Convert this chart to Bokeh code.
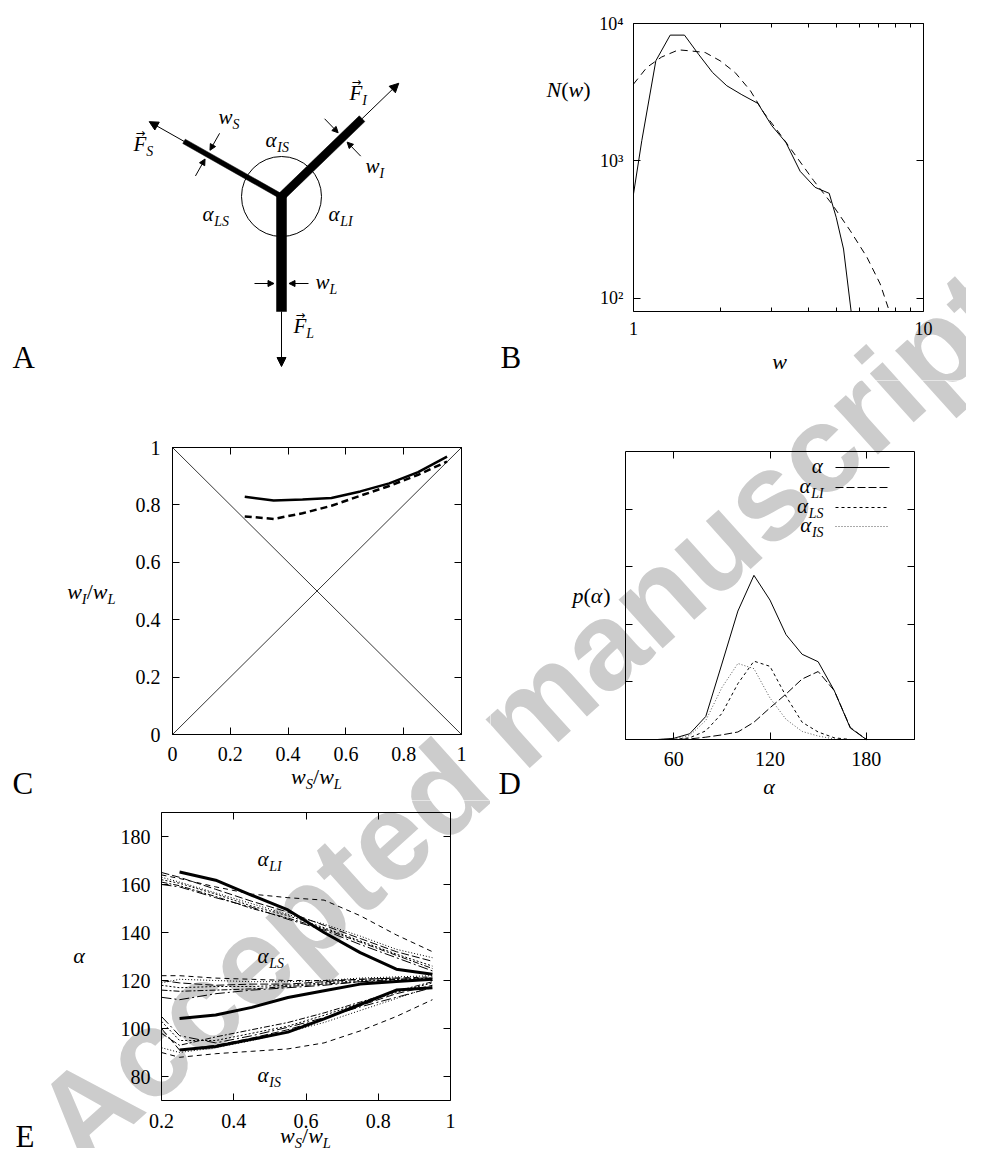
import numpy as np
from bokeh.plotting import figure
from bokeh.models import (Range1d, FixedTicker, LinearAxis, LogAxis, Label, Arrow,
                          NormalHead, CustomJSTickFormatter, ColumnDataSource)
from bokeh.layouts import column, row
from bokeh.embed import file_html
from bokeh.resources import INLINE

SERIF = "Liberation Serif"
BASE_FIX = 0.32  # raise labels so that their alphabetic baseline sits on the given y

# ---------------- Panel A: junction diagram (geometry, px units) ----------------
A_BRANCH = ["L", "I", "S"]
A_ANGLE_DEG = [270.0, 44.0, 150.5]
A_LENGTH = [115.0, 112.0, 112.0]
A_WIDTH = [10.0, 8.0, 5.0]
A_FORCE_EXTRA = [55.0, 51.0, 40.0]
A_WMARK_AT = [87.0, 85.0, 85.0]
A_CIRCLE_R = 40.0

# ---------------- Panel B: N(w) ----------------
B_W_SIM = [1.0, 1.068, 1.194, 1.338, 1.499, 1.675, 1.873, 2.098, 2.364, 2.684, 3.0,
           3.352, 3.756, 4.23, 4.73, 5.0, 5.30, 5.63]
B_N_SIM = [574, 1402, 5350, 8230, 8230, 5980, 4400, 3520, 3030, 2620, 1800,
           1363, 839, 641, 580, 388, 228, 80]
B_W_FIT = [1.0, 1.112, 1.25, 1.43, 1.568, 1.766, 1.99, 2.24, 2.53, 2.81, 3.20,
           3.66, 4.18, 4.83, 5.59, 6.38, 7.09, 7.63]
B_N_FIT = [3620, 4790, 5700, 6430, 6320, 6150, 5350, 4400, 3240, 2250, 1567,
           1060, 718, 486, 310, 199, 127, 80]
B_XTICKS = [1, 10]
B_XTICK_LABELS = ["1", "10"]
B_XMINOR = [2, 3, 4, 5, 6, 7, 8, 9]
B_YTICKS = [100, 1000, 10000]
B_YTICK_LABELS = ["10\u00b2", "10\u00b3", "10\u2074"]

# ---------------- Panel C: w_I/w_L vs w_S/w_L ----------------
C_RATIO = [0.25, 0.35, 0.45, 0.55, 0.65, 0.75, 0.85, 0.95]
C_SIM = [0.828, 0.815, 0.819, 0.824, 0.847, 0.875, 0.914, 0.968]
C_MODEL = [0.760, 0.751, 0.771, 0.797, 0.832, 0.866, 0.905, 0.951]
C_DIAG_X = [0.0, 1.0]
C_DIAG_UP = [0.0, 1.0]
C_DIAG_DOWN = [1.0, 0.0]
C_TICKS = [0.0, 0.2, 0.4, 0.6, 0.8, 1.0]
C_TICK_LABELS = ["0", "0.2", "0.4", "0.6", "0.8", "1"]

# ---------------- Panel D: p(alpha) ----------------
D_ANGLE = [30, 40, 50, 60, 70, 80, 90, 100, 110, 120, 130, 140, 150, 160, 170, 180, 190, 200, 210]
D_ALL = [0, 0, 0, 0.02, 0.10, 0.40, 1.31, 2.23, 2.85, 2.42, 1.82, 1.48, 1.35, 0.85, 0.20, 0, 0, 0, 0]
D_LI = [0, 0, 0, 0.0, 0.01, 0.04, 0.08, 0.13, 0.30, 0.55, 0.79, 1.05, 1.18, 0.85, 0.21, 0, 0, 0, 0]
D_LS = [0, 0, 0, 0.0, 0.03, 0.15, 0.45, 0.97, 1.36, 1.27, 0.75, 0.30, 0.13, 0.03, 0, 0, 0, 0, 0]
D_IS = [0, 0, 0, 0.01, 0.07, 0.33, 0.90, 1.32, 1.23, 0.72, 0.35, 0.14, 0.06, 0.01, 0, 0, 0, 0, 0]
D_XTICKS = [60, 120, 180]
D_XTICK_LABELS = ["60", "120", "180"]
D_YTICKS = [1, 2, 3, 4]

# ---------------- Panel E: angles vs w_S/w_L ----------------
E_X = [0.25, 0.35, 0.45, 0.55, 0.65, 0.75, 0.85, 0.95]
E_LI = [165.2, 161.8, 155.5, 149.4, 140.0, 131.6, 124.7, 122.6]
E_LS = [104.2, 105.6, 108.8, 112.9, 115.7, 118.5, 119.6, 120.5]
E_IS = [91.0, 92.5, 95.5, 98.5, 104.0, 110.0, 116.0, 117.0]
E_X_THIN = [0.2, 0.25, 0.35, 0.45, 0.55, 0.65, 0.75, 0.85, 0.95]
E_LI_THIN = [
    [164, 162.5, 159, 156, 154.5, 153.5, 147, 139, 132],
    [165, 163, 158, 153, 148.5, 143, 137.5, 132, 128],
    [162, 160.5, 156, 151, 147, 142, 136.5, 131, 126],
    [161, 159.5, 155, 150, 146, 141.5, 136, 130.5, 125],
    [160, 159, 154.5, 150.5, 145.5, 141, 135, 129.5, 124],
    [163, 161, 156.5, 152, 147.5, 143.5, 138.5, 133, 129.5],
]
E_LS_THIN = [
    [122, 122, 121, 120.5, 120, 120, 120.5, 121, 121.5],
    [120, 119, 118, 118.5, 118.5, 119.5, 120.5, 121, 121],
    [118, 117, 117.5, 117.5, 118, 119, 120, 120.5, 121],
    [116, 115.5, 116, 116.5, 117.5, 118.5, 119.5, 120.5, 120.5],
    [113, 112, 114.5, 116, 117, 118, 119.5, 120, 120],
    [119, 120.5, 120, 119.5, 119.5, 120, 121, 121.5, 122],
]
E_IS_THIN = [
    [90, 88, 89.5, 90.5, 91.5, 94, 99, 105, 112],
    [100, 91, 93, 96, 99.5, 104, 109.5, 114.5, 118],
    [103, 95, 95, 98, 101, 105.5, 110.5, 115, 119],
    [98, 93, 96.5, 99.5, 102.5, 106.5, 111, 115.5, 119.5],
    [105, 97, 94, 97, 100.5, 104.5, 109, 113, 117],
    [92, 90, 92, 95, 98.5, 102.5, 107.5, 112.5, 117.5],
]
E_XTICKS = [0.2, 0.4, 0.6, 0.8, 1.0]
E_XTICK_LABELS = ["0.2", "0.4", "0.6", "0.8", "1"]
E_YTICKS = [80, 100, 120, 140, 160, 180]
E_YTICK_LABELS = ["80", "100", "120", "140", "160", "180"]

THIN_DASHES = ["5 4", "8 3", "2 2", "6 2 2 2", "10 3 2 3", "1 2"]

WATERMARK = "Accepted manuscript"

# ---------------- helpers ----------------
CHAR_W = {"w": 0.667, "I": 0.333, "L": 0.556, "S": 0.5, "N": 0.667, "p": 0.5,
          "F": 0.611, "\u03b1": 0.56, "(": 0.333, ")": 0.333, "/": 0.278}


def math_label(p, x, y, parts, size=21.0, units="screen", align="left", vec=False):
    sub = size * 0.66
    widths = []
    for t, k in parts:
        fs = sub if k == "sub" else size
        widths.append(sum(CHAR_W.get(c, 0.5) for c in t) * fs)
    total = sum(widths)
    cur = {"left": 0.0, "center": -total / 2.0, "right": -total}[align]
    for i, ((t, k), w) in enumerate(zip(parts, widths)):
        fs = sub if k == "sub" else size
        yo = (-0.24 * size if k == "sub" else 0.0) + BASE_FIX * fs
        p.add_layout(Label(x=x, y=y, x_units=units, y_units=units,
                           x_offset=cur, y_offset=yo,
                           text=t, text_font=SERIF,
                           text_font_style="normal" if k == "up" else "italic",
                           text_font_size=f"{fs:.1f}px", text_baseline="alphabetic",
                           text_align="left", text_color="black"))
        if vec and i == 0:
            afs = size * 0.55
            p.add_layout(Label(x=x, y=y, x_units=units, y_units=units,
                               x_offset=cur + w * 0.55, y_offset=0.64 * size + BASE_FIX * afs,
                               text="\u2192", text_font="DejaVu Sans",
                               text_font_size=f"{afs:.1f}px", text_baseline="alphabetic",
                               text_align="center", text_color="black"))
        cur += w


def panel_letter(p, x, y, letter, units="screen"):
    p.add_layout(Label(x=x, y=y, x_units=units, y_units=units, text=letter,
                       y_offset=BASE_FIX * 31,
                       text_font=SERIF, text_font_size="31px",
                       text_baseline="alphabetic", text_align="left", text_color="black"))


def tick_formatter(ticks, labels):
    return CustomJSTickFormatter(args=dict(t=list(ticks), l=list(labels)), code="""
        let b = 0, d = Infinity;
        for (let i = 0; i < t.length; i++) {
            const e = Math.abs(t[i] - tick);
            if (e < d) { d = e; b = i; }
        }
        return l[b];""")


def style_axis(ax, ticks, minor, labels, size, standoff, show=True):
    ax.ticker = FixedTicker(ticks=list(ticks), minor_ticks=list(minor))
    ax.formatter = tick_formatter(ticks, labels if (labels and show) else [""] * len(ticks))
    ax.major_tick_in = 7
    ax.major_tick_out = 0
    ax.minor_tick_in = 4
    ax.minor_tick_out = 0
    ax.major_tick_line_color = "black"
    ax.minor_tick_line_color = "black"
    ax.axis_line_color = "black"
    ax.axis_line_width = 1
    ax.major_label_text_font = SERIF
    ax.major_label_text_color = "black"
    ax.major_label_text_font_size = size if show else "0px"
    ax.major_label_standoff = standoff if show else 0


def make_panel(X0, Y0, W, H, box, xdom, ydom, log=False):
    """Figure whose frame is the whole canvas; the data box sits at the page box."""
    bl, bt, br, bb = box
    f = (lambda v: np.log10(v)) if log else (lambda v: v)
    g = (lambda v: 10.0 ** v) if log else (lambda v: v)
    tx0, tx1 = f(xdom[0]), f(xdom[1])
    ty0, ty1 = f(ydom[0]), f(ydom[1])
    sx = (br - bl) / (tx1 - tx0)
    sy = (bb - bt) / (ty1 - ty0)
    xr = Range1d(g(tx0 - (bl - X0) / sx), g(tx1 + (X0 + W - br) / sx))
    yr = Range1d(g(ty0 - (Y0 + H - bb) / sy), g(ty1 + (bt - Y0) / sy))
    kw = dict(width=W, height=H, x_range=xr, y_range=yr, output_backend="svg",
              toolbar_location=None, min_border=0, x_axis_location=None, y_axis_location=None)
    if log:
        kw.update(x_axis_type="log", y_axis_type="log")
    p = figure(**kw)
    p.xgrid.visible = False
    p.ygrid.visible = False
    p.outline_line_color = None
    p.background_fill_color = "white"
    p.border_fill_color = "white"
    info = dict(X0=X0, Y0=Y0, W=W, H=H)
    return p, info


def scr(info, px, py):
    return px - info["X0"], info["Y0"] + info["H"] - py


def frame_axes(p, xdom, ydom, xt, xm, xl, yt, ym, yl, size, xstand, ystand, log=False, show_y=True):
    Ax = LogAxis if log else LinearAxis
    specs = [("below", ydom[0], xdom, xt, xm, xl, xstand, True),
             ("above", ydom[1], xdom, xt, xm, None, 0, False),
             ("left", xdom[0], ydom, yt, ym, yl, ystand, show_y),
             ("right", xdom[1], ydom, yt, ym, None, 0, False)]
    for side, loc, bnd, t, m, l, st, show in specs:
        ax = Ax(fixed_location=loc, bounds=(bnd[0], bnd[1]))
        style_axis(ax, t, m, l, size, st, show)
        p.add_layout(ax, side)


def watermark(p, info):
    sx, sy = scr(info, 522.0, 716.0)
    p.add_layout(Label(x=sx, y=sy, x_units="screen", y_units="screen", text=WATERMARK,
                       angle=42.0, angle_units="deg", text_align="center",
                       text_baseline="middle", text_font="Liberation Sans",
                       text_font_style="bold", text_font_size="124px",
                       text_color="#cccccc", level="underlay"))


def mlabel(p, info, px, py, parts, align="left", size=21.0):
    sx, sy = scr(info, px, py)
    math_label(p, sx, sy, parts, size=size, units="screen", align=align)


def letter(p, info, px, py, ch):
    sx, sy = scr(info, px, py)
    panel_letter(p, sx, sy, ch)


# ================= Panel A =================
pA = figure(width=490, height=380, x_range=Range1d(-281, 209), y_range=Range1d(-184, 196),
            output_backend="svg", toolbar_location=None, min_border=0,
            x_axis_location=None, y_axis_location=None)
pA.xgrid.visible = False
pA.ygrid.visible = False
pA.outline_line_color = None
pA.background_fill_color = "white"
pA.border_fill_color = "white"

ang = np.radians(A_ANGLE_DEG)
ux, uy = np.cos(ang), np.sin(ang)
nx, ny = -uy, ux
L = np.array(A_LENGTH)
W = np.array(A_WIDTH)
xs, ys = [], []
hull = []
for k in range(3):
    hw = W[k] / 2.0
    xs.append([nx[k] * hw, L[k] * ux[k] + nx[k] * hw, L[k] * ux[k] - nx[k] * hw, -nx[k] * hw])
    ys.append([ny[k] * hw, L[k] * uy[k] + ny[k] * hw, L[k] * uy[k] - ny[k] * hw, -ny[k] * hw])
    hull.append((nx[k] * hw, ny[k] * hw))
    hull.append((-nx[k] * hw, -ny[k] * hw))
hull.sort(key=lambda q: np.arctan2(q[1], q[0]))
pA.patches(xs, ys, fill_color="black", line_color="black", line_width=0.5)
pA.patch([q[0] for q in hull], [q[1] for q in hull], fill_color="black", line_color="black", line_width=0.5)
pA.circle(x=[0], y=[0], radius=A_CIRCLE_R, fill_color=None, line_color="black", line_width=1)

E_ext = L + np.array(A_FORCE_EXTRA)
force_src = ColumnDataSource(dict(x0=L * ux, y0=L * uy, x1=E_ext * ux, y1=E_ext * uy))
pA.add_layout(Arrow(source=force_src, x_start="x0", y_start="y0", x_end="x1", y_end="y1",
                    line_color="black", line_width=1,
                    end=NormalHead(size=9, fill_color="black", line_color="black")))
wx0, wy0, wx1, wy1 = [], [], [], []
for k in range(3):
    d = A_WMARK_AT[k]
    for s in (1, -1):
        wx0.append(d * ux[k] + s * nx[k] * (W[k] / 2 + 22))
        wy0.append(d * uy[k] + s * ny[k] * (W[k] / 2 + 22))
        wx1.append(d * ux[k] + s * nx[k] * (W[k] / 2 + 2.5))
        wy1.append(d * uy[k] + s * ny[k] * (W[k] / 2 + 2.5))
wsrc = ColumnDataSource(dict(x0=wx0, y0=wy0, x1=wx1, y1=wy1))
pA.add_layout(Arrow(source=wsrc, x_start="x0", y_start="y0", x_end="x1", y_end="y1",
                    line_color="black", line_width=1,
                    end=NormalHead(size=6, fill_color="black", line_color="black")))

math_label(pA, -148, 46, [("F", "it"), ("S", "sub")], units="data", vec=True)
math_label(pA, 68, 97, [("F", "it"), ("I", "sub")], units="data", vec=True)
math_label(pA, 12, -136, [("F", "it"), ("L", "sub")], units="data", vec=True)
math_label(pA, -63, 73, [("w", "it"), ("S", "sub")], units="data")
math_label(pA, 84, 24, [("w", "it"), ("I", "sub")], units="data")
math_label(pA, 34, -92, [("w", "it"), ("L", "sub")], units="data")
math_label(pA, -16, 50, [("\u03b1", "it"), ("IS", "sub")], units="data")
math_label(pA, -79, -24, [("\u03b1", "it"), ("LS", "sub")], units="data")
math_label(pA, 47, -24, [("\u03b1", "it"), ("LI", "sub")], units="data")
panel_letter(pA, -269, -171, "A", units="data")

# ================= Panel B =================
B_X, B_Y = (1, 10), (80, 10000)
pB, iB = make_panel(490, 0, 476, 380, (633, 23, 923, 311), B_X, B_Y, log=True)
watermark(pB, iB)
pB.line(B_W_SIM, B_N_SIM, line_color="black", line_width=1)
pB.line(B_W_FIT, B_N_FIT, line_color="black", line_width=1, line_dash="7 5")
frame_axes(pB, B_X, B_Y, B_XTICKS, B_XMINOR, B_XTICK_LABELS, B_YTICKS, [], B_YTICK_LABELS,
           "18px", 10, 10, log=True)
mlabel(pB, iB, 590, 96, [("N", "it"), ("(", "up"), ("w", "it"), (")", "up")], align="right", size=22)
mlabel(pB, iB, 779, 368, [("w", "it")], align="center", size=22)
letter(pB, iB, 500, 367, "B")

# ================= Panel C =================
C_X, C_Y = (0.0, 1.0), (0.0, 1.0)
pC, iC = make_panel(0, 380, 490, 420, (172, 447, 461, 734), C_X, C_Y)
watermark(pC, iC)
pC.line(C_DIAG_X, C_DIAG_UP, line_color="black", line_width=0.8)
pC.line(C_DIAG_X, C_DIAG_DOWN, line_color="black", line_width=0.8)
pC.line(C_RATIO, C_SIM, line_color="black", line_width=2.5)
pC.line(C_RATIO, C_MODEL, line_color="black", line_width=2.5, line_dash="7 4")
frame_axes(pC, C_X, C_Y, C_TICKS, [], C_TICK_LABELS, C_TICKS, [], C_TICK_LABELS, "20px", 12, 12)
mlabel(pC, iC, 115, 598, [("w", "it"), ("I", "sub"), ("/", "up"), ("w", "it"), ("L", "sub")],
       align="right", size=22)
mlabel(pC, iC, 316, 783, [("w", "it"), ("S", "sub"), ("/", "up"), ("w", "it"), ("L", "sub")],
       align="center", size=22)
letter(pC, iC, 12, 793, "C")

# ================= Panel D =================
D_X, D_Y = (30, 210), (0, 5)
D_BOX = (625, 451, 914, 739)
pD, iD = make_panel(490, 380, 476, 420, D_BOX, D_X, D_Y)
watermark(pD, iD)
D_STYLES = [("solid", "black"), ("8 3", "black"), ("3 3", "black"), ("1 2", "#555555")]
for series, (dash, col) in zip([D_ALL, D_LI, D_LS, D_IS], D_STYLES):
    pD.line(D_ANGLE, series, line_color=col, line_width=1, line_dash=dash)
frame_axes(pD, D_X, D_Y, D_XTICKS, [], D_XTICK_LABELS, D_YTICKS, [], None, "20px", 12, 12, show_y=False)
mlabel(pD, iD, 610, 602, [("p", "it"), ("(", "up"), ("\u03b1", "it"), (")", "up")], align="right", size=22)
mlabel(pD, iD, 769, 793, [("\u03b1", "it")], align="center", size=22)
letter(pD, iD, 498, 793, "D")
# legend: page rows -> data coordinates for the sample lines
leg_rows = [467, 487, 507, 526]
leg_parts = [[("\u03b1", "it")], [("\u03b1", "it"), ("LI", "sub")],
             [("\u03b1", "it"), ("LS", "sub")], [("\u03b1", "it"), ("IS", "sub")]]
bw = D_BOX[2] - D_BOX[0]
bh = D_BOX[3] - D_BOX[1]
for ry, parts, (dash, col) in zip(leg_rows, leg_parts, D_STYLES):
    mlabel(pD, iD, 823, ry + 5, parts, align="right")
    xa = D_X[0] + (835 - D_BOX[0]) / bw * (D_X[1] - D_X[0])
    xb = D_X[0] + (889 - D_BOX[0]) / bw * (D_X[1] - D_X[0])
    yy = D_Y[0] + (D_BOX[3] - ry) / bh * (D_Y[1] - D_Y[0])
    pD.line([xa, xb], [yy, yy], line_color=col, line_width=1, line_dash=dash)

# ================= Panel E =================
E_XD, E_YD = (0.2, 1.0), (70, 190)
pE, iE = make_panel(0, 800, 490, 348, (161, 812, 450, 1100), E_XD, E_YD)
watermark(pE, iE)
for bundle in (E_LI_THIN, E_LS_THIN, E_IS_THIN):
    for ser, dash in zip(bundle, THIN_DASHES):
        pE.line(E_X_THIN, ser, line_color="black", line_width=1.0, line_dash=dash)
for ser in (E_LI, E_LS, E_IS):
    pE.line(E_X, ser, line_color="black", line_width=3)
frame_axes(pE, E_XD, E_YD, E_XTICKS, [], E_XTICK_LABELS, E_YTICKS, [], E_YTICK_LABELS, "20px", 13, 11)
mlabel(pE, iE, 79, 962, [("\u03b1", "it")], align="center", size=22)
mlabel(pE, iE, 305, 1142, [("w", "it"), ("S", "sub"), ("/", "up"), ("w", "it"), ("L", "sub")],
       align="center", size=22)
mlabel(pE, iE, 257, 865, [("\u03b1", "it"), ("LI", "sub")])
mlabel(pE, iE, 257, 962, [("\u03b1", "it"), ("LS", "sub")])
mlabel(pE, iE, 257, 1081, [("\u03b1", "it"), ("IS", "sub")])
letter(pE, iE, 15, 1146, "E")

layout = column(row(pA, pB), row(pC, pD), row(pE))
open("out.html", "w").write(file_html(layout, INLINE))
